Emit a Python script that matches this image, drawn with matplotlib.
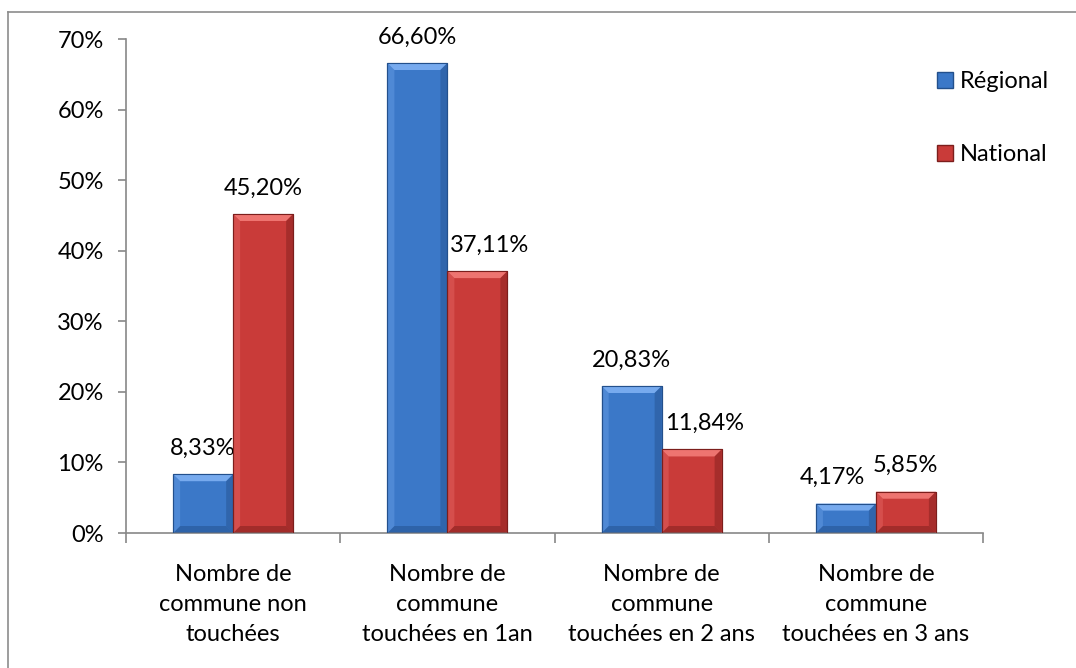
import matplotlib
matplotlib.use("Agg")
import matplotlib.pyplot as plt
from matplotlib.patches import Polygon, Rectangle
from matplotlib.lines import Line2D
from matplotlib.transforms import offset_copy

categories = ["Nombre de\ncommune non\ntouchées",
              "Nombre de\ncommune\ntouchées en 1an",
              "Nombre de\ncommune\ntouchées en 2 ans",
              "Nombre de\ncommune\ntouchées en 3 ans"]
regional = [8.33, 66.60, 20.83, 4.17]
national = [45.20, 37.11, 11.84, 5.85]
series_names = ["Régional", "National"]
yticks = [0, 10, 20, 30, 40, 50, 60, 70]

# colours: main, light top bevel, dark edge
blue = ("#3b78c8", "#77aaee", "#23508c")
red = ("#c93b39", "#ee7470", "#7c1e1c")

plt.rcParams['font.family'] = ['Lato', 'DejaVu Sans']
fs = 17

W, H = 1076, 668
fig = plt.figure(figsize=(W / 100, H / 100), dpi=100)
ax = fig.add_axes([126 / W, 1 - 533 / H, (983 - 126) / W, (533 - 39) / H])

x = list(range(len(categories)))
bw = 0.28
bars_r = ax.bar([i - bw / 2 for i in x], regional, bw, color=blue[0],
                edgecolor=blue[2], linewidth=0.8, zorder=2)
bars_n = ax.bar([i + bw / 2 for i in x], national, bw, color=red[0],
                edgecolor=red[2], linewidth=0.8, zorder=2)

ax.set_xlim(-0.5, 3.5)
ax.set_ylim(0, 70)

# pixels per data unit, used for the bevel size
px_x = (983 - 126) / 4.0
px_y = (533 - 39) / 70.0
bev = 7


def bevel(bar, cols):
    x0, y0 = bar.get_x(), bar.get_y()
    w, h = bar.get_width(), bar.get_height()
    dx = bev / px_x
    dy = min(bev / px_y, h / 3)
    # lighter top face
    ax.add_patch(Polygon([(x0, y0 + h), (x0 + w, y0 + h),
                          (x0 + w - dx, y0 + h - dy), (x0 + dx, y0 + h - dy)],
                         closed=True, facecolor=cols[1], edgecolor='none', zorder=3))
    # darker right side
    ax.add_patch(Polygon([(x0 + w, y0 + h), (x0 + w, y0),
                          (x0 + w - dx, y0 + dy), (x0 + w - dx, y0 + h - dy)],
                         closed=True, facecolor=cols[2], edgecolor='none', alpha=0.45, zorder=3))
    # darker bottom
    ax.add_patch(Polygon([(x0, y0), (x0 + w, y0),
                          (x0 + w - dx, y0 + dy), (x0 + dx, y0 + dy)],
                         closed=True, facecolor=cols[2], edgecolor='none', alpha=0.5, zorder=3))
    # slightly lighter left side
    ax.add_patch(Polygon([(x0, y0), (x0, y0 + h),
                          (x0 + dx, y0 + h - dy), (x0 + dx, y0 + dy)],
                         closed=True, facecolor=cols[1], edgecolor='none', alpha=0.35, zorder=3))
    ax.add_patch(Rectangle((x0, y0), w, h, facecolor='none',
                           edgecolor=cols[2], linewidth=0.8, zorder=4))


for b in bars_r:
    bevel(b, blue)
for b in bars_n:
    bevel(b, red)


def fmt(v):
    return ("%.2f%%" % v).replace(".", ",")


# horizontal nudges (pixels) so neighbouring labels don't collide
shift_r = [0, 0, 0, -14]
shift_n = [0, 12, 13, 0]

for bars, vals, shifts in ((bars_r, regional, shift_r), (bars_n, national, shift_n)):
    for b, v, s in zip(bars, vals, shifts):
        tr = offset_copy(ax.transData, fig=fig, x=s, y=0, units='dots')
        ax.text(b.get_x() + b.get_width() / 2, v + 2.2, fmt(v), transform=tr,
                ha='center', va='bottom', fontsize=fs, color='#000000')

# axes styling
for s in ['top', 'right']:
    ax.spines[s].set_visible(False)
for s in ['left', 'bottom']:
    ax.spines[s].set_color('#888888')
    ax.spines[s].set_linewidth(1.2)

ax.set_yticks(yticks)
ax.set_yticklabels(["%d%%" % t for t in yticks], fontsize=fs)
ax.tick_params(axis='y', length=6, width=1.2, color='#888888', pad=10)

ax.set_xticks([i - 0.5 for i in range(len(categories) + 1)])
ax.set_xticklabels([])
ax.set_xticks(x, minor=True)
ax.set_xticklabels(categories, minor=True, fontsize=fs, linespacing=1.55)
ax.tick_params(axis='x', which='major', length=7, width=1.2, color='#888888')
ax.tick_params(axis='x', which='minor', length=0, pad=22)

# legend
handles = [Rectangle((0, 0), 1, 1, facecolor=blue[0], edgecolor=blue[2]),
           Rectangle((0, 0), 1, 1, facecolor=red[0], edgecolor=red[2])]
fig.legend(handles, series_names, loc='upper left',
           bbox_to_anchor=(916 / W, 1 - 50 / H), frameon=False, fontsize=fs,
           handlelength=0.65, handleheight=0.65, handletextpad=0.3,
           labelspacing=2.2)

# chart border
fig.add_artist(Line2D([8 / W, 8 / W], [0, 1 - 12 / H], transform=fig.transFigure,
                      color='#8c8c8c', linewidth=1.2))
fig.add_artist(Line2D([8 / W, 1], [1 - 12 / H, 1 - 12 / H], transform=fig.transFigure,
                      color='#8c8c8c', linewidth=1.2))

fig.savefig("out.png", dpi=100, facecolor='white')
